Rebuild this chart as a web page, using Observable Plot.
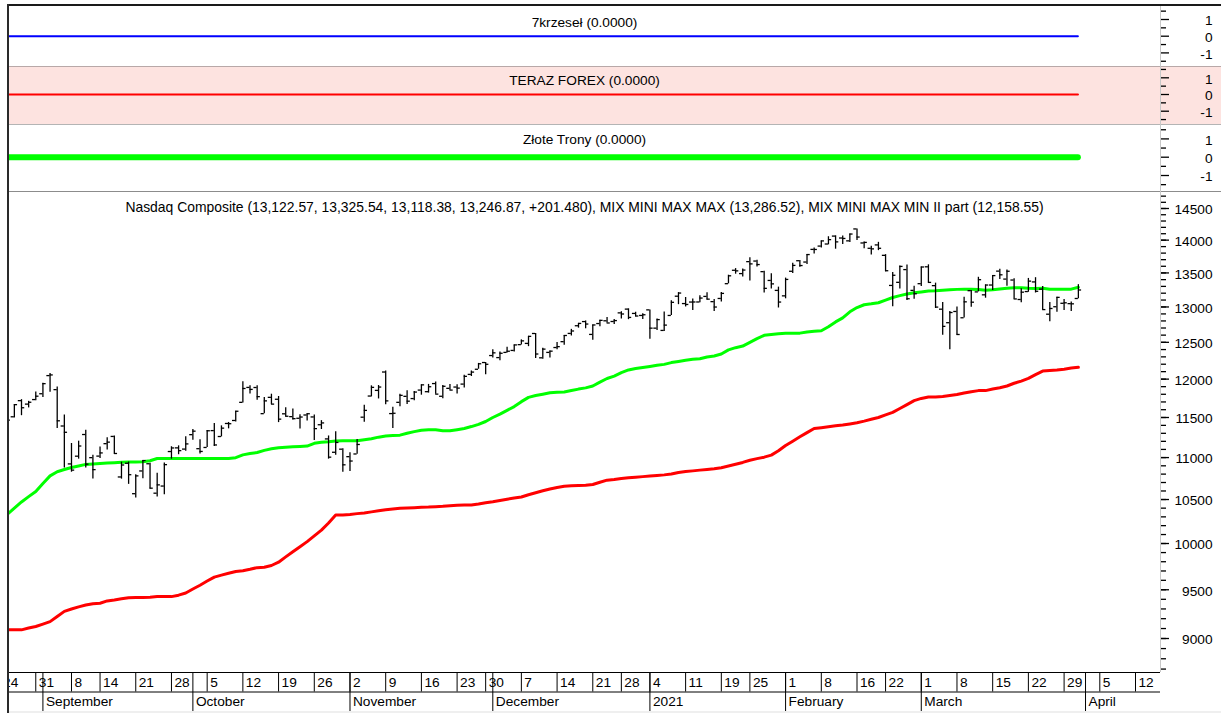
<!DOCTYPE html>
<html><head><meta charset="utf-8">
<script src="https://cdn.jsdelivr.net/npm/d3@7"></script>
<script src="https://cdn.jsdelivr.net/npm/@observablehq/plot@0.6"></script>
<style>
html,body{margin:0;padding:0;background:#fff;}
#chart{position:relative;width:1221px;height:713px;overflow:hidden;background:#fff;font-family:"Liberation Sans",Arial,sans-serif;}
.panel{position:absolute;left:0;width:1221px;}
.panel svg{display:block;}
.line{position:absolute;}
</style></head><body><div id="chart"></div>
<script>
// ---------- DATA ----------
const dates = [
"2020-08-24","2020-08-25","2020-08-26","2020-08-27","2020-08-28",
"2020-08-31","2020-09-01","2020-09-02","2020-09-03","2020-09-04",
"2020-09-08","2020-09-09","2020-09-10","2020-09-11",
"2020-09-14","2020-09-15","2020-09-16","2020-09-17","2020-09-18",
"2020-09-21","2020-09-22","2020-09-23","2020-09-24","2020-09-25",
"2020-09-28","2020-09-29","2020-09-30","2020-10-01","2020-10-02",
"2020-10-05","2020-10-06","2020-10-07","2020-10-08","2020-10-09",
"2020-10-12","2020-10-13","2020-10-14","2020-10-15","2020-10-16",
"2020-10-19","2020-10-20","2020-10-21","2020-10-22","2020-10-23",
"2020-10-26","2020-10-27","2020-10-28","2020-10-29","2020-10-30",
"2020-11-02","2020-11-03","2020-11-04","2020-11-05","2020-11-06",
"2020-11-09","2020-11-10","2020-11-11","2020-11-12","2020-11-13",
"2020-11-16","2020-11-17","2020-11-18","2020-11-19","2020-11-20",
"2020-11-23","2020-11-24","2020-11-25","2020-11-27",
"2020-11-30","2020-12-01","2020-12-02","2020-12-03","2020-12-04",
"2020-12-07","2020-12-08","2020-12-09","2020-12-10","2020-12-11",
"2020-12-14","2020-12-15","2020-12-16","2020-12-17","2020-12-18",
"2020-12-21","2020-12-22","2020-12-23","2020-12-24",
"2020-12-28","2020-12-29","2020-12-30","2020-12-31",
"2021-01-04","2021-01-05","2021-01-06","2021-01-07","2021-01-08",
"2021-01-11","2021-01-12","2021-01-13","2021-01-14","2021-01-15",
"2021-01-19","2021-01-20","2021-01-21","2021-01-22",
"2021-01-25","2021-01-26","2021-01-27","2021-01-28","2021-01-29",
"2021-02-01","2021-02-02","2021-02-03","2021-02-04","2021-02-05",
"2021-02-08","2021-02-09","2021-02-10","2021-02-11","2021-02-12",
"2021-02-16","2021-02-17","2021-02-18","2021-02-19",
"2021-02-22","2021-02-23","2021-02-24","2021-02-25","2021-02-26",
"2021-03-01","2021-03-02","2021-03-03","2021-03-04","2021-03-05",
"2021-03-08","2021-03-09","2021-03-10","2021-03-11","2021-03-12",
"2021-03-15","2021-03-16","2021-03-17","2021-03-18","2021-03-19",
"2021-03-22","2021-03-23","2021-03-24","2021-03-25","2021-03-26",
"2021-03-29","2021-03-30","2021-03-31"];

// blank future sessions shown on the date axis
const futureDates = ["2021-04-01","2021-04-02","2021-04-05","2021-04-06","2021-04-07","2021-04-08","2021-04-09",
"2021-04-12","2021-04-13","2021-04-14","2021-04-15","2021-04-16"];

const open = [11430,11420,11509,11717,11672,11731,11807,12047,11861,11392,
10923,11017,11285,10999,11018,11171,11261,10766,10931,10568,
10838,10925,10574,10658,11074,11119,11104,11283,11109,11124,
11334,11260,11424,11462,11695,11890,11889,11549,11760,11735,
11547,11511,11490,11532,11507,11408,11230,11065,11103,11011,
11044,11504,11777,11851,12095,11550,11695,11773,11744,11855,
11834,11941,11774,11878,11895,11934,12063,12132,12223,12318,
12290,12361,12388,12468,12485,12623,12287,12361,12428,12509,
12624,12732,12791,12610,12763,12802,12792,12915,12969,12907,
12878,12958,12698,12666,12878,13156,13049,13071,13072,13153,
13077,13123,13340,13540,13490,13670,13679,13519,13388,13241,
13161,13525,13684,13664,13857,13908,13940,14063,14033,13989,
14175,13956,13874,13926,13766,13314,13360,13550,13241,13340,
13592,13311,12968,12775,12935,12845,13237,13219,13176,13320,
13527,13408,13394,13108,13224,13366,13260,12896,13003,13053,
13048,13122.57];

const high = [11431,11467,11666,11730,11708,11830,11945,12074,11895,11531,
11173,11202,11337,11029,11131,11244,11267,10944,10946,10793,
10964,10931,10811,10935,11133,11144,11258,11348,11219,11336,
11424,11394,11437,11581,11965,11912,11912,11759,11801,11771,
11624,11608,11534,11549,11533,11460,11267,11319,11109,11059,
11223,11656,11911,11915,12109,11633,11802,11847,11835,11924,
11930,11962,11914,11928,11925,12052,12109,12211,12225,12399,
12365,12431,12464,12534,12583,12623,12418,12379,12499,12595,
12681,12765,12800,12743,12809,12848,12821,12931,12974,12924,
12903,12958,12829,12929,13091,13208,13137,13115,13163,13206,
13107,13210,13466,13565,13558,13728,13690,13525,13489,13289,
13423,13646,13687,13778,13879,13988,14053,14068,14064,14095,
14176,13973,13907,13966,13777,13508,13603,13618,13302,13590,
13622,13348,13064,12936,13001,13140,13238,13435,13322,13460,
13556,13545,13413,13266,13418,13429,13297,13064,13141,13108,
13070,13325.54];

const low = [11290,11368,11494,11523,11623,11716,11757,11827,11361,10875,
10823,10981,10874,10742,10990,11092,11045,10740,10678,10519,
10746,10622,10529,10556,10981,11035,11079,11212,11044,11123,
11136,11255,11356,11444,11687,11804,11723,11548,11668,11435,
11505,11469,11354,11454,11211,11348,10981,11027,10822,10830,
11041,11438,11765,11739,11663,11362,11639,11668,11714,11788,
11815,11801,11741,11854,11804,11882,12035,12132,12057,12284,
12247,12353,12365,12463,12440,12276,12268,12283,12399,12460,
12588,12698,12689,12527,12719,12770,12751,12827,12818,12858,
12822,12543,12665,12652,12877,13033,13000,12950,13061,13099,
12935,13070,13337,13481,13439,13379,13590,13204,13262,12985,
13118,13492,13587,13628,13786,13880,13927,13860,13931,13965,
13994,13868,13771,13838,13517,13003,13262,13094,13112,13300,
13349,12978,12600,12397,12597,12842,12994,13219,13127,13238,
13401,13302,13112,13062,13213,13203,12955,12787,12924,12950,
12934,13118.38];

const close = [11380,11466,11665,11625,11696,11775,11940,12056,11458,11313,
10848,11142,10920,10854,11057,11190,11050,10910,10793,10779,
10964,10633,10672,10914,11118,11085,11168,11327,11075,11332,
11155,11365,11421,11580,11876,11864,11769,11714,11672,11479,
11516,11485,11506,11548,11359,11431,11005,11186,10912,10958,
11161,11591,11891,11895,11714,11554,11786,11710,11829,11924,
11899,11802,11905,11855,11881,12037,12094,12206,12199,12355,
12349,12377,12464,12520,12583,12339,12406,12378,12440,12595,
12658,12765,12756,12743,12808,12771,12805,12899,12850,12870,
12888,12698,12819,12741,13067,13202,13036,13072,13129,13113,
12999,13197,13457,13531,13543,13636,13626,13271,13337,13071,
13403,13613,13611,13778,13856,13988,14008,13973,14026,14095,
14048,13965,13865,13874,13533,13465,13598,13119,13192,13589,
13359,12998,12723,12920,12609,13074,13069,13399,13320,13460,
13472,13525,13116,13215,13378,13228,12962,12978,13139,13060,
13045,13246.87];

const lastChange = 201.480;

// MIX MINI MAX MAX (green)
const mixMax = [10260,10328,10400,10472,10534,10594,10689,10779,10829,10855,
10879,10898,10917,10923,10929,10934,10938,10943,10945,10946,
10949,10962,10989,10989,10989,10989,10989,10989,10989,10989,
10989,10989,10989,10999,11033,11049,11062,11088,11108,11121,
11128,11133,11137,11141,11175,11188,11195,11204,11206,11206,
11206,11219,11233,11252,11266,11272,11277,11300,11321,11339,
11344,11345,11333,11331,11346,11361,11385,11413,11449,11500,
11543,11592,11640,11704,11760,11783,11801,11821,11826,11831,
11849,11868,11884,11909,11961,12008,12040,12088,12123,12142,
12155,12170,12185,12198,12222,12238,12254,12267,12275,12298,
12312,12339,12395,12426,12448,12499,12551,12598,12609,12620,
12628,12628,12628,12644,12653,12662,12718,12786,12843,12930,
12991,13032,13045,13061,13099,13137,13164,13187,13206,13219,
13232,13236,13243,13250,13256,13259,13258,13253,13243,13250,
13263,13272,13280,13280,13271,13269,13274,13259,13259,13259,
13259,13286.52];

// MIX MINI MAX MIN II part (red)
const mixMin = [9087,9087,9087,9087,9105,9121,9145,9170,9222,9275,
9299,9321,9340,9354,9359,9383,9393,9405,9416,9418,
9418,9421,9428,9428,9428,9443,9466,9508,9548,9592,
9634,9655,9676,9695,9702,9718,9736,9740,9759,9795,
9853,9910,9965,10021,10085,10149,10230,10322,10322,10327,
10337,10345,10357,10370,10381,10390,10399,10402,10405,10409,
10412,10417,10421,10429,10434,10437,10437,10448,10463,10475,
10489,10503,10518,10530,10556,10579,10602,10623,10641,10655,
10661,10665,10668,10676,10703,10728,10736,10748,10756,10763,
10770,10777,10784,10791,10801,10820,10831,10839,10848,10856,
10865,10877,10897,10919,10941,10968,10987,11005,11030,11083,
11148,11202,11256,11309,11360,11371,11383,11394,11404,11418,
11434,11454,11477,11500,11533,11565,11615,11666,11717,11746,
11765,11765,11771,11783,11796,11817,11834,11848,11848,11869,
11886,11909,11945,11974,12010,12061,12108,12114,12122,12133,
12148,12158.55];

// indicator panes (name, last value)
const indicatorNames = ["7krzeseł", "TERAZ FOREX", "Złote Trony"];
const indicatorValues = [0.0000, 0.0000, 0.0000];
const indicatorColors = ["#0000ff", "#ff0000", "#00ff00"];

const priceTicks = [9000,9500,10000,10500,11000,11500,12000,12500,13000,13500,14000,14500];
const priceMinorTicks = d3.range(8700, 14800, 100);
const indTicks = [-1, 0, 1];
const indMinorTicks = [-1.5, -0.5, 0.5, 1.5];
const monthNames = ["January","February","March","April","May","June","July","August","September","October","November","December"];

// ---------- LAYOUT ----------
const W = 1221, ML = 8, MR = 61;
const xDomain = [1.18, 162.5];
const style = {fontFamily: '"Liberation Sans", Arial, sans-serif', fontSize: "13.7px", color: "#000", background: "transparent", overflow: "visible"};
const chart = document.getElementById("chart");

function place(node, top, height, bg) {
  const div = document.createElement("div");
  div.className = "panel";
  div.style.top = top + "px";
  div.style.height = height + "px";
  if (bg) div.style.background = bg;
  div.appendChild(node);
  chart.appendChild(div);
}
function line(left, top, width, height, color) {
  const d = document.createElement("div");
  d.className = "line";
  Object.assign(d.style, {left: left + "px", top: top + "px", width: width + "px", height: height + "px", background: color});
  chart.appendChild(d);
}

const fmt2 = d3.format(",.2f");
const bars = dates.map((d, i) => ({i, date: d, open: open[i], high: high[i], low: low[i], close: close[i], mixMax: mixMax[i], mixMin: mixMin[i]}));
const last = bars[bars.length - 1];
const lastIdx = bars.length - 1;

// ---------- indicator panes ----------
const panes = [
  {top: 5, height: 61, yDomain: [-1.814, 1.838], width: 2, titleDy: 11.5, bg: null},
  {top: 66, height: 58, yDomain: [-1.796, 1.677], width: 2.2, titleDy: 9, bg: "#fde3e0"},
  {top: 124, height: 67, yDomain: [-1.874, 1.787], width: 6, titleDy: 9.5, bg: null}
];
panes.forEach((p, k) => {
  const title = `${indicatorNames[k]} (${indicatorValues[k].toFixed(4)})`;
  const svg = Plot.plot({
    width: W, height: p.height, marginLeft: ML, marginRight: MR, marginTop: 0, marginBottom: 0,
    style,
    x: {domain: xDomain, axis: null},
    y: {domain: p.yDomain, axis: null},
    marks: [
      Plot.ruleY([indicatorValues[k]], {x1: 0, x2: lastIdx, stroke: indicatorColors[k], strokeWidth: p.width, strokeLinecap: "round", clip: true}),
      Plot.axisY({anchor: "right", ticks: indMinorTicks, tickSize: 5, tickFormat: () => "", strokeWidth: 1.3}),
      Plot.axisY({anchor: "right", ticks: indTicks, tickSize: 8, tickFormat: () => "", strokeWidth: 1.3}),
      Plot.text(indTicks, {y: d => d, text: d => String(d), frameAnchor: "right", textAnchor: "end", dx: 52, dy: 1.5, fill: "#000"}),
      Plot.text([title], {frameAnchor: "top", dy: p.titleDy, fill: "#000"})
    ]
  });
  place(svg, p.top, p.height, p.bg);
});

// ---------- main price pane ----------
const mainTitle = `Nasdaq Composite (${fmt2(last.open)}, ${fmt2(last.high)}, ${fmt2(last.low)}, ${fmt2(last.close)}, +${lastChange.toFixed(3)}), MIX MINI MAX MAX (${fmt2(last.mixMax)}), MIX MINI MAX MIN II part (${fmt2(last.mixMin)})`;
const half = 0.45;
const mainSvg = Plot.plot({
  width: W, height: 481, marginLeft: ML, marginRight: MR, marginTop: 0, marginBottom: 0,
  style,
  x: {domain: xDomain, axis: null},
  y: {type: "log", domain: [8667, 14776], axis: null},
  marks: [
    Plot.lineY(bars, {x: "i", y: "mixMax", stroke: "#00ff00", strokeWidth: 3, strokeLinejoin: "round", clip: true}),
    Plot.lineY(bars, {x: "i", y: "mixMin", stroke: "#ff0000", strokeWidth: 3, strokeLinejoin: "round", clip: true}),
    Plot.ruleX(bars, {x: "i", y1: "low", y2: "high", stroke: "#000", strokeWidth: 1.3, clip: true}),
    Plot.ruleY(bars, {y: "open", x1: d => d.i - half, x2: "i", stroke: "#000", strokeWidth: 1.3, clip: true}),
    Plot.ruleY(bars, {y: "close", x1: "i", x2: d => d.i + half, stroke: "#000", strokeWidth: 1.3, clip: true}),
    Plot.axisY({anchor: "right", ticks: priceMinorTicks, tickSize: 5, tickFormat: () => "", strokeWidth: 1.3}),
    Plot.axisY({anchor: "right", ticks: priceTicks, tickSize: 8, tickFormat: () => "", strokeWidth: 1.3}),
    Plot.text(priceTicks, {y: d => d, text: d => String(d), frameAnchor: "right", textAnchor: "end", dx: 52, dy: 1.5, fill: "#000"}),
    Plot.text([mainTitle], {frameAnchor: "top", dy: 11, fill: "#000", fontSize: 13.9})
  ]
});
place(mainSvg, 191, 481);

// ---------- date axis strip ----------
const parse = d3.utcParse("%Y-%m-%d");
const sessions = dates.concat(futureDates).map(parse);
const weekStarts = [], monthStarts = [];
sessions.forEach((d, i) => {
  const prev = sessions[i - 1];
  if (!prev || d.getUTCDay() < prev.getUTCDay()) weekStarts.push({i, label: String(d.getUTCDate())});
  if (prev && d.getUTCMonth() !== prev.getUTCMonth())
    monthStarts.push({i, label: d.getUTCMonth() === 0 ? String(d.getUTCFullYear()) : monthNames[d.getUTCMonth()]});
});
const stripSvg = Plot.plot({
  width: W, height: 41, marginLeft: ML, marginRight: MR, marginTop: 0, marginBottom: 2,
  style,
  x: {domain: xDomain, axis: null},
  y: {domain: [0, 2], axis: null, reverse: true},
  marks: [
    Plot.ruleY([0, 1], {stroke: "#000"}),
    Plot.ruleX(weekStarts, {x: "i", y1: 0, y2: 1, stroke: "#000", clip: true}),
    Plot.ruleX(monthStarts, {x: "i", y1: 0, y2: 2, stroke: "#000", clip: true}),
    Plot.text(weekStarts, {x: "i", y: 0.5, text: "label", textAnchor: "start", dx: 3, fill: "#000", clip: true}),
    Plot.text(monthStarts, {x: "i", y: 1.5, text: "label", textAnchor: "start", dx: 3, fill: "#000", clip: true})
  ]
});
place(stripSvg, 672, 41);

// ---------- frame lines ----------
line(9, 66, 1212, 1, "#b8a8a8");
line(9, 124, 1212, 1, "#b4b4b4");
line(9, 191, 1212, 1, "#8c8c8c");
line(1160, 5, 1, 667, "#c8c8c8");
line(9, 711, 1212, 2, "#efefef");
line(0, 0, 9, 713, "#ffffff");
line(7, 4, 1214, 2, "#1a1a1a");
line(7, 4, 2, 709, "#2a2a2a");
</script></body></html>
